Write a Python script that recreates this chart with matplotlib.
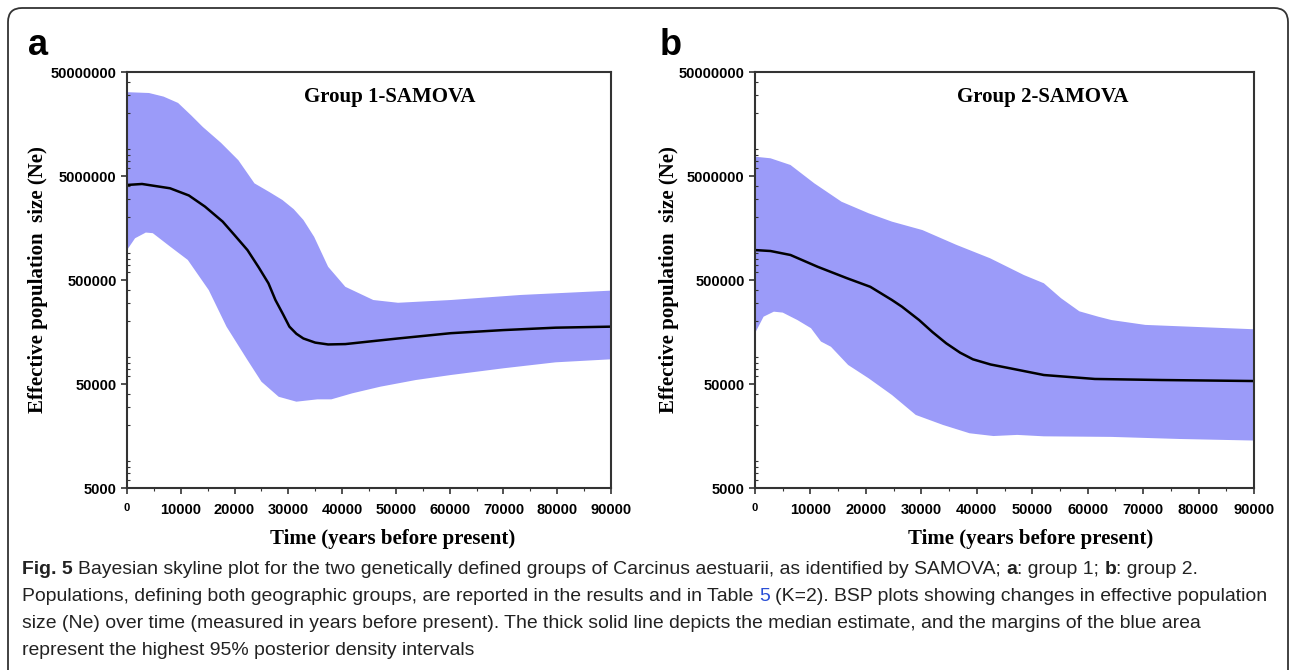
import matplotlib
matplotlib.use('Agg')
import matplotlib.pyplot as plt
from matplotlib import font_manager
from matplotlib.patches import FancyBboxPatch
from matplotlib.transforms import IdentityTransform
from matplotlib.ticker import FixedLocator, MultipleLocator, LogLocator, NullFormatter
import numpy as np

# ---- data ----
# panel a: Group 1-SAMOVA
a_med_x = [0, 2800, 8000, 11500, 14500, 17800, 20000, 22400, 24500, 26300, 27600, 29000, 30200, 31500, 32800, 35000, 37400, 40600, 45000, 50400, 60200, 70000, 79700, 90000]
a_med = [4.10e6, 4.19e6, 3.81e6, 3.25e6, 2.54e6, 1.82e6, 1.35e6, 9.7e5, 6.6e5, 4.65e5, 3.21e5, 2.35e5, 1.78e5, 1.52e5, 1.37e5, 1.25e5, 1.20e5, 1.21e5, 1.28e5, 1.37e5, 1.54e5, 1.65e5, 1.74e5, 1.78e5]
a_up_x = [0, 4100, 6800, 9500, 12000, 14100, 17500, 20700, 23700, 26500, 28900, 31000, 32800, 34800, 37400, 40600, 45800, 50400, 60200, 73200, 90000]
a_up = [3.2e7, 3.14e7, 2.9e7, 2.52e7, 1.9e7, 1.48e7, 1.04e7, 7.1e6, 4.25e6, 3.5e6, 2.94e6, 2.4e6, 1.89e6, 1.30e6, 6.7e5, 4.3e5, 3.21e5, 3.02e5, 3.21e5, 3.59e5, 3.95e5]
a_lo_x = [0, 1500, 3500, 4800, 8000, 11300, 15200, 18500, 22400, 25000, 28200, 31500, 35400, 38000, 41900, 47100, 53700, 60200, 70000, 79700, 90000]
a_lo = [9.7e5, 1.26e6, 1.43e6, 1.41e6, 1.05e6, 7.8e5, 4.0e5, 1.78e5, 8.5e4, 5.26e4, 3.77e4, 3.38e4, 3.56e4, 3.56e4, 4.07e4, 4.71e4, 5.46e4, 6.1e4, 7.08e4, 8.08e4, 8.64e4]

# panel b: Group 2-SAMOVA
b_med_x = [0, 2800, 6400, 11300, 16600, 20800, 24700, 26500, 29600, 32000, 34500, 37000, 39300, 42500, 46000, 52100, 61300, 73400, 90000]
b_med = [9.7e5, 9.5e5, 8.7e5, 6.7e5, 5.2e5, 4.3e5, 3.21e5, 2.77e5, 2.06e5, 1.58e5, 1.23e5, 1.0e5, 8.64e4, 7.7e4, 7.08e4, 6.1e4, 5.59e4, 5.46e4, 5.34e4]
b_up_x = [0, 2800, 6400, 10700, 15600, 20500, 24700, 30200, 36300, 42400, 48500, 52100, 55200, 58500, 61900, 64300, 70400, 90000]
b_up = [7.67e6, 7.40e6, 6.38e6, 4.25e6, 2.83e6, 2.19e6, 1.82e6, 1.51e6, 1.09e6, 8.09e5, 5.58e5, 4.65e5, 3.34e5, 2.5e5, 2.22e5, 2.06e5, 1.85e5, 1.68e5]
b_lo_x = [0, 1550, 3400, 5000, 7650, 10100, 11900, 13700, 16800, 20500, 24700, 29000, 33900, 38700, 43000, 47300, 52100, 64300, 76600, 90000]
b_lo = [1.54e5, 2.22e5, 2.48e5, 2.43e5, 2.06e5, 1.72e5, 1.28e5, 1.14e5, 7.62e4, 5.67e4, 3.92e4, 2.52e4, 2.02e4, 1.68e4, 1.58e4, 1.62e4, 1.57e4, 1.55e4, 1.48e4, 1.43e4]

yticks = [5000, 50000, 500000, 5000000, 50000000]
ytick_labels = ['5000', '50000', '500000', '5000000', '50000000']
xticks = [0, 10000, 20000, 30000, 40000, 50000, 60000, 70000, 80000, 90000]
xtick_labels = [str(v) for v in xticks]

titles = ['Group 1-SAMOVA', 'Group 2-SAMOVA']
letters = ['a', 'b']

W, H = 1293, 670
band_color = '#9b9bf9'


def have(name):
    try:
        font_manager.findfont(font_manager.FontProperties(family=name), fallback_to_default=False)
        return True
    except ValueError:
        return False


narrow = 'Liberation Sans Narrow' if have('Liberation Sans Narrow') else 'Liberation Sans'
serif = 'Liberation Serif'
cap_font = narrow

fig = plt.figure(figsize=(W / 100, H / 100), dpi=100)

# rounded frame around the whole figure
fig.patches.append(FancyBboxPatch((8, -30), 1280, 692, boxstyle='round,pad=0,rounding_size=14',
                                  transform=IdentityTransform(), fill=False, ec='#333333', lw=1.3))

panels = [
    dict(rect=[127 / W, 1 - 488 / H, 484 / W, 416 / H], med=(a_med_x, a_med), up=(a_up_x, a_up),
         lo=(a_lo_x, a_lo), title_x=0.543, xlab_x=0.548, ylab_x=-0.163, letter_x=28),
    dict(rect=[755 / W, 1 - 488 / H, 499 / W, 416 / H], med=(b_med_x, b_med), up=(b_up_x, b_up),
         lo=(b_lo_x, b_lo), title_x=0.577, xlab_x=0.553, ylab_x=-0.152, letter_x=660),
]

for i, p in enumerate(panels):
    ax = fig.add_axes(p['rect'])
    ux, uy = p['up']
    lx, ly = p['lo']
    ax.fill(np.concatenate([ux, lx[::-1]]), np.concatenate([uy, ly[::-1]]), color=band_color, lw=0)
    ax.plot(p['med'][0], p['med'][1], color='black', lw=1.8)

    ax.set_yscale('log')
    ax.set_ylim(5000, 50000000)
    ax.set_xlim(0, 90000)
    ax.yaxis.set_major_locator(FixedLocator(yticks))
    ax.set_yticklabels(ytick_labels)
    ax.yaxis.set_minor_locator(LogLocator(base=10, subs=np.arange(2, 10)))
    ax.yaxis.set_minor_formatter(NullFormatter())
    ax.set_xticks(xticks)
    ax.set_xticklabels(xtick_labels)
    ax.xaxis.set_minor_locator(MultipleLocator(5000))

    for lab in ax.get_xticklabels() + ax.get_yticklabels():
        lab.set_family(narrow)
        lab.set_fontweight('bold')
        lab.set_fontsize(10.5)
    ax.get_xticklabels()[0].set_fontsize(8)

    ax.tick_params(which='major', direction='out', length=4.5, width=1.2, color='#333333')
    ax.tick_params(which='major', axis='x', pad=6)
    ax.tick_params(which='major', axis='y', pad=3)
    ax.tick_params(which='minor', axis='y', direction='in', length=2.5, width=0.8, color='#333333')
    ax.tick_params(which='minor', axis='x', direction='out', length=2.5, width=0.8, color='#333333')
    for s in ax.spines.values():
        s.set_linewidth(1.5)
        s.set_color('#333333')

    ax.text(p['title_x'], 0.94, titles[i], transform=ax.transAxes, ha='center', va='center',
            family=serif, fontweight='bold', fontsize=15)
    ax.set_xlabel('Time (years before present)', family=serif, fontweight='bold', fontsize=15)
    ax.xaxis.set_label_coords(p['xlab_x'], -0.098)
    ax.set_ylabel('Effective population  size (Ne)', family=serif, fontweight='bold', fontsize=15)
    ax.yaxis.set_label_coords(p['ylab_x'], 0.5)

    fig.text(p['letter_x'] / W, 1 - 55 / H, letters[i], family='Liberation Sans', fontweight='bold',
             fontsize=26, va='baseline', ha='left')

# ---- caption with mixed styles ----
cap_fs = 13.95
renderer = fig.canvas.get_renderer()


def width_of(s, weight='normal'):
    t = fig.text(0, 0, s, family=cap_font, fontsize=cap_fs, fontweight=weight)
    w = t.get_window_extent(renderer).width
    t.remove()
    return w


space_w = width_of('n n') - width_of('nn')

caption = [
    [('Fig. 5', 'bold', '#222222'),
     (' Bayesian skyline plot for the two genetically defined groups of Carcinus aestuarii, as identified by SAMOVA;', 'normal', '#222222'),
     (' a', 'bold', '#222222'), (': group 1;', 'normal', '#222222'),
     (' b', 'bold', '#222222'), (': group 2.', 'normal', '#222222')],
    [('Populations, defining both geographic groups, are reported in the results and in Table', 'normal', '#222222'),
     (' 5', 'normal', '#2a4fd6'),
     (' (K=2). BSP plots showing changes in effective population', 'normal', '#222222')],
    [('size (Ne) over time (measured in years before present). The thick solid line depicts the median estimate, and the margins of the blue area', 'normal', '#222222')],
    [('represent the highest 95% posterior density intervals', 'normal', '#222222')],
]
baselines = [574, 601, 628, 655]

for yb, parts in zip(baselines, caption):
    x = 22.0
    for txt, weight, color in parts:
        if txt.startswith(' '):
            x += space_w
            txt = txt[1:]
        t = fig.text(x / W, 1 - yb / H, txt, family=cap_font, fontsize=cap_fs, fontweight=weight,
                     color=color, va='baseline', ha='left')
        x += t.get_window_extent(renderer).width

fig.savefig('out.png', dpi=100)
